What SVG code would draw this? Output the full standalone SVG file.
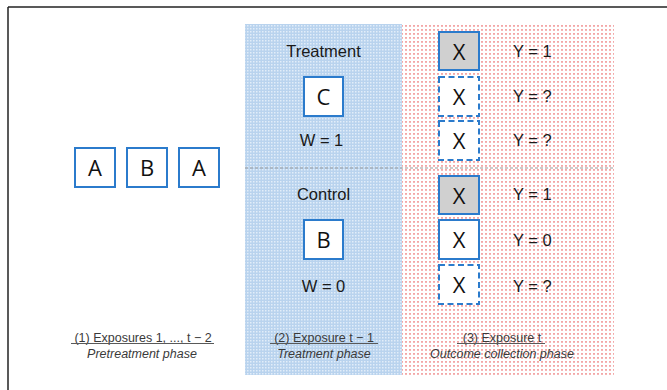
<svg xmlns="http://www.w3.org/2000/svg" width="667" height="390" viewBox="0 0 667 390">
<defs>
<pattern id="bluePat" width="3" height="3" patternUnits="userSpaceOnUse">
<rect width="3" height="3" fill="#b9d3ee"/>
<rect x="1" y="1" width="1.5" height="1.5" fill="#e2edf9"/>
</pattern>
<pattern id="redPat" width="4" height="4" patternUnits="userSpaceOnUse">
<rect width="4" height="4" fill="#ffffff"/>
<rect x="1" y="1" width="2" height="1.8" fill="#f3a7a7"/>
</pattern>
<style>
.box{fill:#ffffff;stroke:#2b7bcc;stroke-width:2}
.obs{fill:#d0d0d0;stroke:#2b7bcc;stroke-width:2}
.miss{fill:#ffffff;stroke:#2b7bcc;stroke-width:2;stroke-dasharray:6,3.5}
.let{font-family:"Open Sans","Noto Sans",sans-serif;font-size:22px;fill:#111;text-anchor:middle}
.lab{font-family:"Liberation Sans",Arial,sans-serif;font-size:16.5px;fill:#1a1a1a}
.mid{text-anchor:middle}
.cap{font-family:"Liberation Sans",Arial,sans-serif;font-size:12.5px;fill:#3a3a3a;text-anchor:middle}
.ital{font-style:italic}
.ul{stroke:#595959;stroke-width:1}
</style>
</defs>
<rect width="667" height="390" fill="#ffffff"/>
<g id="frame">
<line x1="8" y1="7" x2="667" y2="7" stroke="#222" stroke-width="1.5"/>
<line x1="8" y1="7" x2="8" y2="390" stroke="#222" stroke-width="1.5"/>
</g>
<g id="phase2-bg"><rect x="245" y="24" width="157" height="351" fill="url(#bluePat)"/></g>
<g id="phase3-bg"><rect x="402" y="24" width="212" height="351" fill="url(#redPat)"/></g>
<g id="connectors">
<line x1="245" y1="168" x2="614" y2="168" stroke="#999" stroke-width="1" stroke-dasharray="3,2"/>
</g>
<g id="pre-A1"><rect class="box" x="75" y="148" width="40" height="39"/><text class="let" x="95" y="176">A</text></g>
<g id="pre-B"><rect class="box" x="127" y="148" width="40" height="39"/><text class="let" x="147" y="176">B</text></g>
<g id="pre-A2"><rect class="box" x="179" y="148" width="40" height="39"/><text class="let" x="199" y="176">A</text></g>
<g id="treatment">
<text class="lab mid" x="323.5" y="57">Treatment</text>
<rect class="box" x="304" y="77" width="39" height="39"/><text class="let" x="323.5" y="105">C</text>
<text class="lab mid" x="321.5" y="146">W = 1</text>
</g>
<g id="control">
<text class="lab mid" x="323.5" y="200">Control</text>
<rect class="box" x="304" y="220" width="39" height="39"/><text class="let" x="323.5" y="248">B</text>
<text class="lab mid" x="323.5" y="292">W = 0</text>
</g>
<g id="out1"><rect class="obs" x="439" y="32" width="40" height="38"/><text class="let" x="459" y="60">X</text><text class="lab" x="513" y="57">Y = 1</text></g>
<g id="out2"><rect class="miss" x="439" y="77" width="40" height="39"/><text class="let" x="459" y="105">X</text><text class="lab" x="513" y="102">Y = ?</text></g>
<g id="out3"><rect class="miss" x="439" y="121" width="40" height="39"/><text class="let" x="459" y="149">X</text><text class="lab" x="513" y="146">Y = ?</text></g>
<g id="out4"><rect class="obs" x="439" y="176" width="40" height="38"/><text class="let" x="459" y="204">X</text><text class="lab" x="513" y="200">Y = 1</text></g>
<g id="out5"><rect class="box" x="439" y="220" width="40" height="39"/><text class="let" x="459" y="248">X</text><text class="lab" x="513" y="246">Y = 0</text></g>
<g id="out6"><rect class="miss" x="439" y="265" width="40" height="39"/><text class="let" x="459" y="293">X</text><text class="lab" x="513" y="292">Y = ?</text></g>
<g id="cap1">
<text class="cap" x="143" y="341.5">(1) Exposures 1, ..., t − 2</text>
<line class="ul" x1="71" y1="343.5" x2="214" y2="343.5"/>
<text class="cap ital" x="142" y="358">Pretreatment phase</text>
</g>
<g id="cap2">
<text class="cap" x="324" y="341.5">(2) Exposure t − 1</text>
<line class="ul" x1="270" y1="343.5" x2="378" y2="343.5"/>
<text class="cap ital" x="324" y="358">Treatment phase</text>
</g>
<g id="cap3">
<text class="cap" x="502" y="341.5">(3) Exposure t</text>
<line class="ul" x1="457" y1="343.5" x2="545" y2="343.5"/>
<text class="cap ital" x="502" y="358">Outcome collection phase</text>
</g>
</svg>
